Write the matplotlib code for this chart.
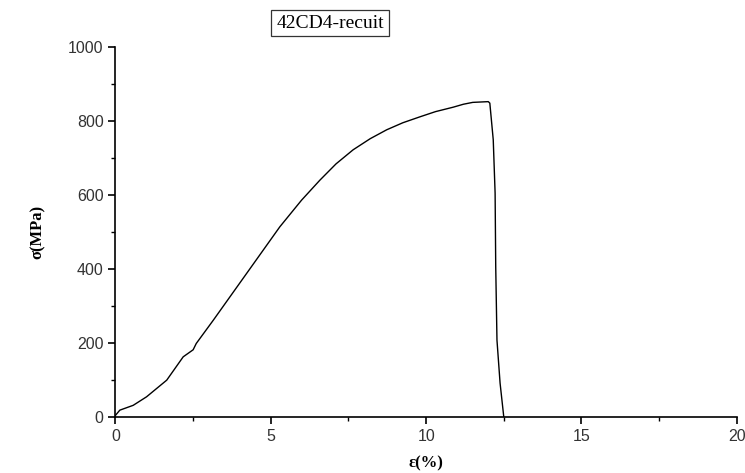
import matplotlib
matplotlib.use("Agg")
import matplotlib.pyplot as plt
from matplotlib.ticker import MultipleLocator

strain = [0.0, 0.14, 0.57, 1.0, 1.65, 2.18, 2.5, 2.6, 3.15, 4.22, 5.29, 5.99, 6.58,
          7.1, 7.65, 8.2, 8.73, 9.25, 9.8, 10.3, 10.87, 11.2, 11.5, 12.0, 12.05,
          12.16, 12.22, 12.24, 12.28, 12.38, 12.5]
stress = [5, 19, 32, 55, 100, 163, 182, 199, 262, 388, 514, 586, 640,
          684, 722, 752, 776, 795, 811, 825, 837, 845, 850, 852, 848,
          749, 605, 406, 208, 92, 0]

title = "42CD4-recuit"
xlabel = "ε(%)"
ylabel = "σ(MPa)"

fig = plt.figure(figsize=(7.45, 4.73), dpi=100)
ax = fig.add_axes([0.155, 0.118, 0.834, 0.783])
ax.plot(strain, stress, color="black", lw=1.0)
ax.set_xlim(0, 20)
ax.set_ylim(0, 1000)
ax.xaxis.set_major_locator(MultipleLocator(5))
ax.xaxis.set_minor_locator(MultipleLocator(2.5))
ax.yaxis.set_major_locator(MultipleLocator(200))
ax.yaxis.set_minor_locator(MultipleLocator(100))
for s in ["top", "right"]:
    ax.spines[s].set_visible(False)
for s in ["left", "bottom"]:
    ax.spines[s].set_linewidth(1.2)
ax.tick_params(which="major", direction="out", length=5, width=1.2, labelsize=11.5,
               labelcolor="#333333")
ax.tick_params(which="minor", direction="out", length=3, width=1.0)
for lab in ax.get_xticklabels() + ax.get_yticklabels():
    lab.set_fontfamily("Liberation Sans")
ax.set_xlabel(xlabel, fontfamily="Liberation Serif", fontweight="bold", fontsize=12, labelpad=8)
ax.set_ylabel(ylabel, fontfamily="Liberation Serif", fontweight="bold", fontsize=12, labelpad=16)
fig.text(330 / 745, 1 - 23 / 473, title, ha="center", va="center",
         fontfamily="Liberation Serif", fontsize=14,
         bbox=dict(boxstyle="square,pad=0.25", fc="white", ec="#333333", lw=0.9))
fig.savefig("out.png", dpi=100)
